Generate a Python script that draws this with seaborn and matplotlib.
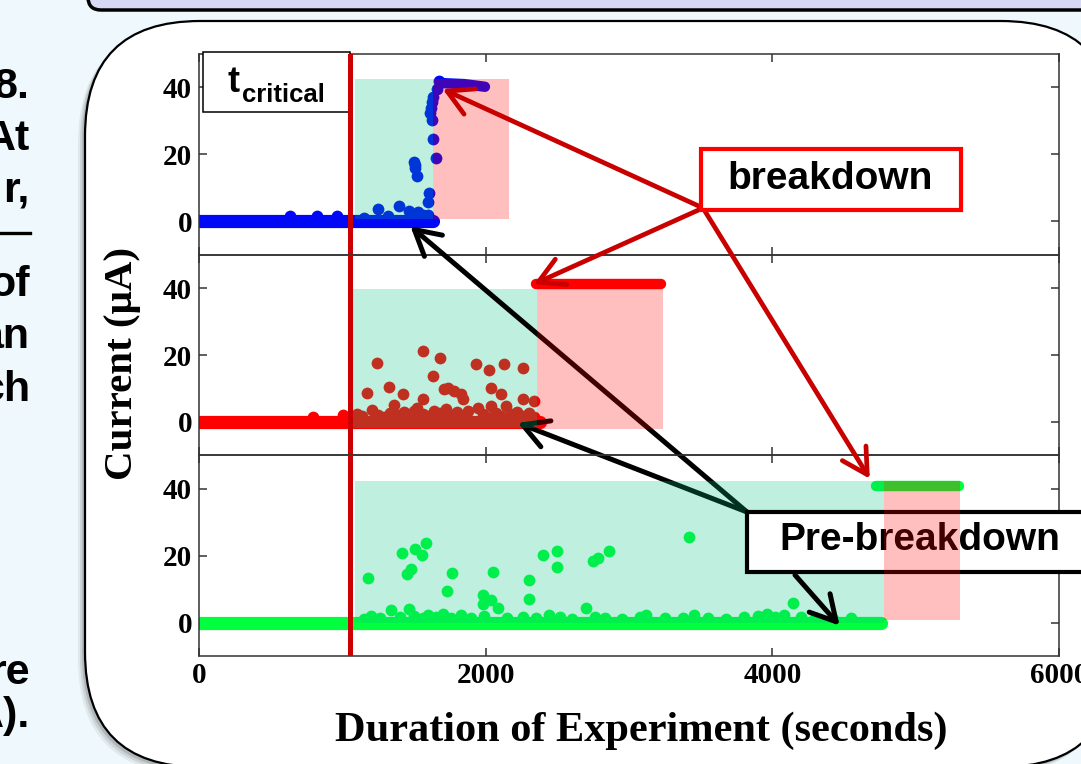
import matplotlib
matplotlib.use("Agg")
import matplotlib.pyplot as plt
import seaborn as sns
from matplotlib.patches import Rectangle, FancyBboxPatch
from matplotlib.transforms import Affine2D
from matplotlib.lines import Line2D

W, H = 1081, 764

# ------------------------------------------------------------------ data
x_ticks = [0, 2000, 4000, 6000]
y_ticks = [0, 20, 40]
x_tick_labels = ["0", "2000", "4000", "6000"]
y_tick_labels = ["0", "20", "40"]
t_critical = 1050

# top panel (blue)
blue_zero_t = [0, 1636]
blue_plateau_t = [1690, 1850, 1995]
blue_plateau_I = [41.3, 41.0, 40.2]
blue_t = [636, 825, 965, 1150, 1252, 1320, 1392, 1462, 1531, 1560, 1601, 1601, 1608,
          1497, 1505, 1510, 1524, 1650, 1636, 1629, 1615, 1618, 1629, 1636, 1657, 1671]
blue_I = [1.5, 1.5, 1.5, 1.0, 3.6, 1.5, 4.5, 3.0, 2.7, 1.8, 2.0, 5.7, 8.4,
          17.6, 16.8, 16.0, 13.4, 19.0, 24.5, 30.4, 32.5, 34.0, 35.5, 37.0, 39.4, 41.8]
blue_pre_t = [1091, 1636]
blue_post_t = [1636, 2161]
blue_pre_I = [0.6, 42.4]
blue_post_I = [0.6, 42.4]

# middle panel (red)
red_zero_t = [0, 2380]
red_plateau_t = [2350, 3220]
red_plateau_I = [41.3, 41.3]
red_t = [1245, 1566, 1678, 1930, 2021, 2126, 2259, 1636, 1175, 1329, 1420, 1566, 1706,
         1776, 1825, 2035, 2105, 2259, 2336, 1357, 1524, 1944, 2035, 2140, 1210, 1839, 1734,
         797, 1007, 1100, 1140, 1250, 1290, 1330, 1390, 1430, 1470, 1500, 1560, 1600, 1640,
         1680, 1720, 1760, 1800, 1840, 1880, 1980, 2010, 2070, 2110, 2180, 2220, 2260,
         2300, 2340]
red_I = [17.6, 21.2, 19.1, 17.3, 15.5, 17.3, 16.1, 13.7, 8.7, 10.5, 8.4, 6.9, 9.9,
         9.3, 8.4, 10.2, 8.4, 6.9, 6.3, 5.1, 4.2, 4.2, 4.8, 4.8, 3.6, 6.9, 10.2,
         1.5, 2.0, 2.5, 1.8, 2.2, 1.5, 2.8, 2.0, 3.0, 2.2, 3.4, 2.5, 1.8, 3.2,
         2.6, 3.8, 2.0, 2.9, 1.9, 3.3, 2.4, 1.6, 2.7, 1.8, 2.3, 3.1, 1.7,
         2.6, 1.5]
red_pre_t = [1077, 2357]
red_post_t = [2357, 3238]
red_pre_I = [-1.8, 39.7]
red_post_I = [-2.1, 41.2]

# bottom panel (green)
green_zero_t = [0, 4760]
green_plateau_t = [4720, 5300]
green_plateau_I = [40.8, 40.8]
green_t = [1182, 1413, 1510, 1559, 1587, 1448, 1476, 1762, 1727, 2049, 1979, 1979, 2035,
           2084, 2301, 2301, 2399, 2496, 2496, 2748, 2783, 2860, 3420, 2699, 1343, 1462,
           1150, 1200, 1260, 1400, 1500, 1560, 1600, 1650, 1700, 1760, 1830, 1900, 1990,
           2150, 2260, 2350, 2440, 2520, 2600, 2760, 2830, 2950, 3080, 3120, 3250, 3380,
           3450, 3550, 3680, 3800, 3900, 3960, 4020, 4080, 4147, 4200, 4300, 4420, 4550]
green_I = [13.4, 20.9, 22.1, 20.3, 23.9, 14.6, 16.1, 14.9, 9.3, 15.2, 8.1, 5.4, 6.6,
           4.5, 12.8, 6.9, 20.3, 21.5, 16.7, 18.5, 19.4, 21.5, 25.7, 4.5, 3.9, 4.2,
           1.2, 2.0, 1.5, 1.8, 2.0, 1.3, 2.4, 1.8, 2.6, 1.5, 2.2, 1.4, 1.9,
           1.3, 1.6, 1.4, 2.3, 1.6, 1.2, 1.8, 1.4, 1.2, 1.6, 2.4, 1.3, 1.5,
           2.2, 1.4, 1.2, 1.6, 2.0, 2.6, 1.8, 2.4, 5.7, 1.6, 1.5, 1.2, 1.4]
green_pre_t = [1091, 4776]
green_post_t = [4776, 5308]
green_pre_I = [0.0, 42.4]
green_post_I = [0.9, 42.4]

# annotation targets (data coordinates of the panel they point to)
breakdown_targets = [(0, 1700, 39.5), (1, 2336, 41.2), (2, 4680, 43.0)]
prebreak_targets = [(0, 1475, -1.5), (1, 2224, -0.3), (2, 4469, -0.9)]

# ------------------------------------------------------------------ styles
BLUE, RED, GREEN = "#0008f5", "#ff0000", "#00ff3c"
CYAN_OV = (0.0, 0.761, 0.51)
PINK_OV = (1.0, 0.0, 0.0)
SANS = "Liberation Sans"
SERIF = "Liberation Serif"

fig = plt.figure(figsize=(W / 100, H / 100), dpi=100)
fig.patch.set_facecolor("#eff9fd")
pix = Affine2D().scale(1, -1).translate(0, H)

# slide decorations
fig.add_artist(FancyBboxPatch((88, -100), 1200, 110, boxstyle="round,pad=0,rounding_size=13",
                              fc="#d7d8f3", ec="black", lw=2.5, transform=pix, zorder=-6))
for off, a in [(7, 0.10), (5, 0.15), (3, 0.25)]:
    fig.add_artist(FancyBboxPatch((85 - off, 21 + off), 1031, 746, boxstyle="round,pad=0,rounding_size=115",
                                  fc="#606060", ec="none", alpha=a, transform=pix, zorder=-5))
fig.add_artist(FancyBboxPatch((85, 21), 1031, 746, boxstyle="round,pad=0,rounding_size=115",
                              fc="white", ec="black", lw=1.6, transform=pix, zorder=-4))

left_words = [("8.", 98), ("At", 150), ("r,", 201), ("of", 296), ("an", 348),
              ("ch", 401), ("re", 684), ("A).", 727)]
for w, yb in left_words:
    fig.text(30, yb, w, transform=pix, ha="right", va="baseline", fontsize=31,
             family=SANS, weight="bold", color="black")
fig.add_artist(Line2D([0, 30], [233, 233], transform=pix, color="black", lw=2.4))

# ------------------------------------------------------------------ panels
panels = [
    dict(c=BLUE, zero=blue_zero_t, pt=blue_plateau_t, pI=blue_plateau_I, t=blue_t, I=blue_I,
         pre=(blue_pre_t, blue_pre_I), post=(blue_post_t, blue_post_I)),
    dict(c=RED, zero=red_zero_t, pt=red_plateau_t, pI=red_plateau_I, t=red_t, I=red_I,
         pre=(red_pre_t, red_pre_I), post=(red_post_t, red_post_I)),
    dict(c=GREEN, zero=green_zero_t, pt=green_plateau_t, pI=green_plateau_I, t=green_t, I=green_I,
         pre=(green_pre_t, green_pre_I), post=(green_post_t, green_post_I)),
]

axes = []
top_px, ph = 54, (656 - 54) / 3
for i, p in enumerate(panels):
    y_top = top_px + i * ph
    ax = fig.add_axes([199 / W, (H - (y_top + ph)) / H, 860 / W, ph / H])
    ax.set_facecolor("none")
    sns.lineplot(x=p["zero"], y=[0, 0], ax=ax, color=p["c"], linewidth=9.5,
                 solid_capstyle="round", zorder=2, legend=False)
    sns.lineplot(x=p["pt"], y=p["pI"], ax=ax, color=p["c"], linewidth=7.5,
                 solid_capstyle="round", zorder=2, legend=False)
    sns.scatterplot(x=p["t"], y=p["I"], ax=ax, color=p["c"], s=72, linewidth=0,
                    zorder=2.2, legend=False)
    (pt0, pI0), (qt0, qI0) = p["pre"], p["post"]
    ax.add_patch(Rectangle((pt0[0], pI0[0]), pt0[1] - pt0[0], pI0[1] - pI0[0],
                           fc=CYAN_OV, alpha=0.25, lw=0, zorder=3))
    ax.add_patch(Rectangle((qt0[0], qI0[0]), qt0[1] - qt0[0], qI0[1] - qI0[0],
                           fc=PINK_OV, alpha=0.25, lw=0, zorder=4))
    ax.axvline(t_critical, color="#cc0000", lw=3.6, zorder=6)
    ax.set_xlim(0, 6000)
    ax.set_ylim(-10, 50)
    ax.set_xlabel("")
    ax.set_ylabel("")
    ax.set_xticks(x_ticks)
    ax.set_yticks(y_ticks)
    ax.tick_params(axis="both", direction="in", length=6, width=1.1, color="#333333",
                   top=True, right=True, labelsize=21, pad=5)
    ax.set_yticklabels(y_tick_labels, family=SERIF, weight="bold")
    if i < 2:
        ax.tick_params(axis="x", labelbottom=False)
    else:
        ax.set_xticklabels(x_tick_labels, family=SERIF, weight="bold")
        ax.tick_params(axis="x", pad=4)
    for sp in ax.spines.values():
        sp.set_color("#333333")
        sp.set_linewidth(1.1)
    axes.append(ax)

ax1, ax2, ax3 = axes

# t_critical label box
ax1.add_artist(Rectangle((203, 52), 147, 60, transform=pix, fc="white", ec="black",
                         lw=1.1, zorder=5, clip_on=False))
ax1.text(227, 92, "t", transform=pix, ha="left", va="baseline", fontsize=26,
         family=SANS, weight="bold", zorder=5.5, clip_on=False)
ax1.text(242, 102, "critical", transform=pix, ha="left", va="baseline", fontsize=18.5,
         family=SANS, weight="bold", zorder=5.5, clip_on=False)

# Pre-breakdown box (under the bottom pink region)
ax3.add_artist(Rectangle((747, 512), 400, 60, transform=pix, fc="white", ec="black",
                         lw=3, zorder=3.2, clip_on=False))
ax3.text(920, 550, "Pre-breakdown", transform=pix, ha="center", va="baseline", fontsize=28,
         family=SANS, weight="bold", zorder=3.3, clip_on=False)

head = "->,head_length=0.9,head_width=0.5"
# black arrows
pb_origin = [(747, 512), (747, 512), (795, 575)]
pb_host = [(ax2, 3.5), (ax2, 2.5), (ax3, 6)]
for (k, t, I), org, (host, z) in zip(prebreak_targets, pb_origin, pb_host):
    host.annotate("", xy=(t, I), xycoords=axes[k].transData, xytext=org, textcoords=pix,
                  arrowprops=dict(arrowstyle=head, color="black", lw=3.6, shrinkA=0,
                                  shrinkB=0, mutation_scale=20),
                  zorder=z, annotation_clip=False)

# red arrows
for k, t, I in breakdown_targets:
    ax3.annotate("", xy=(t, I), xycoords=axes[k].transData, xytext=(703, 208), textcoords=pix,
                 arrowprops=dict(arrowstyle=head, color="#c80000", lw=3.4, shrinkA=0,
                                 shrinkB=0, mutation_scale=20),
                 zorder=6, annotation_clip=False)

# breakdown box
ax3.add_artist(Rectangle((701, 149), 260, 61, transform=pix, fc="white", ec="#ff0000",
                         lw=3, zorder=7, clip_on=False))
ax3.text(830, 189, "breakdown", transform=pix, ha="center", va="baseline", fontsize=28,
         family=SANS, weight="bold", zorder=7.5, clip_on=False)

# axis labels
fig.text(132, 363, "Current (μA)", transform=pix, rotation=90, rotation_mode="anchor",
         ha="center", va="baseline", fontsize=29.5, family=SERIF, weight="bold")
fig.text(641, 741, "Duration of Experiment (seconds)", transform=pix, ha="center",
         va="baseline", fontsize=30.5, family=SERIF, weight="bold")

fig.savefig("out.png", dpi=100)
